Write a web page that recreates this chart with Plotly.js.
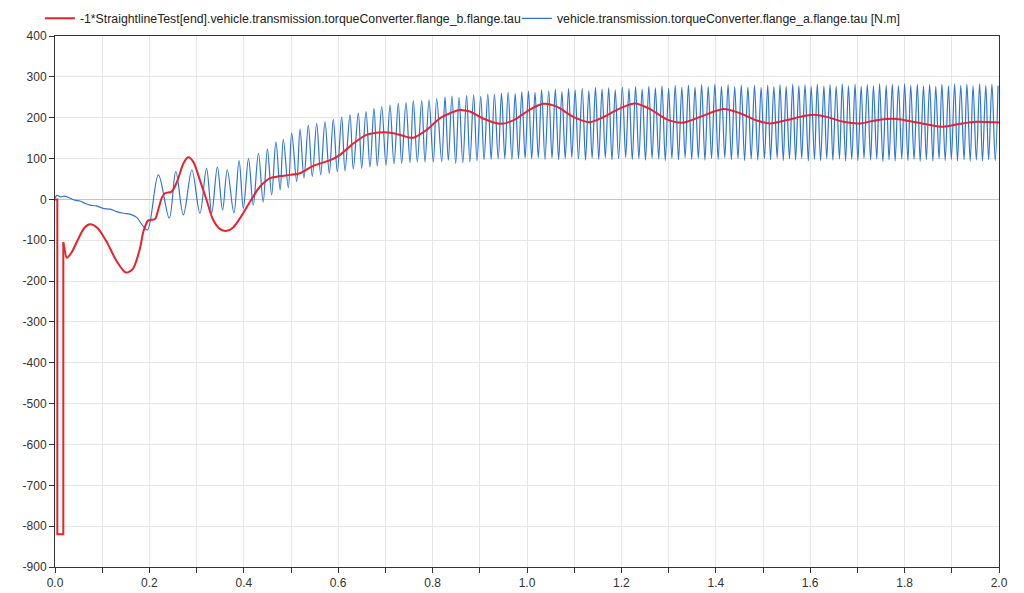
<!DOCTYPE html>
<html>
<head>
<meta charset="utf-8">
<script src="https://cdn.plot.ly/plotly-3.0.1.min.js"></script>
<style>html,body{margin:0;padding:0;background:#fff;}#chart{width:1024px;height:593px;}</style>
</head>
<body>
<div id="chart"></div>
<script>
// ---- Data ----
const redName = '-1*StraightlineTest[end].vehicle.transmission.torqueConverter.flange_b.flange.tau';
const blueName = 'vehicle.transmission.torqueConverter.flange_a.flange.tau [N.m]';

const redTime = [0, 0.0049, 0.0049, 0.0176, 0.0176, 0.020, 0.025, 0.035, 0.050, 0.062, 0.074, 0.090, 0.110, 0.130, 0.150, 0.165, 0.180, 0.187, 0.197, 0.205, 0.212, 0.220, 0.226, 0.233, 0.247, 0.257, 0.265, 0.272, 0.282, 0.293, 0.307, 0.321, 0.335, 0.350, 0.364, 0.378, 0.392, 0.413, 0.434, 0.456, 0.477, 0.498, 0.519, 0.547, 0.583, 0.604, 0.632, 0.660, 0.689, 0.717, 0.745, 0.759, 0.787, 0.816, 0.837, 0.858, 0.879, 0.907, 0.943, 0.972, 1.006, 1.035, 1.063, 1.098, 1.133, 1.161, 1.197, 1.229, 1.261, 1.296, 1.331, 1.367, 1.416, 1.451, 1.487, 1.515, 1.550, 1.578, 1.607, 1.635, 1.670, 1.706, 1.741, 1.783, 1.818, 1.854, 1.882, 1.917, 1.953, 2.000];
const redTorque = [0, 0, -820, -820, -105, -120, -143, -130, -95, -70, -61, -70, -105, -150, -179, -170, -120, -80, -52, -50, -48, -20, 3, 15, 19, 39, 65, 88, 103, 92, 47, -1, -50, -73, -77, -68, -46, -6, 31, 52, 57, 60, 64, 82, 96, 109, 137, 158, 164, 162, 153, 151, 170, 199, 211, 219, 215, 198, 185, 194, 220, 234, 227, 202, 189, 201, 223, 235, 221, 196, 188, 202, 221, 211, 193, 186, 194, 202, 207, 202, 190, 186, 194, 197, 190, 182, 178, 185, 190, 188];

const blueTimeStart = [0, 0.004, 0.012, 0.020, 0.030, 0.042, 0.053, 0.064, 0.074, 0.088, 0.102, 0.117, 0.131, 0.145, 0.159, 0.173, 0.187, 0.196];
const blueTorqueStart = [3, 10, 6, 8, 4, -2, -4, -10, -14, -16, -22, -24, -30, -34, -36, -44, -66, -75];

const blueTimeRise = [0.219, 0.242, 0.256, 0.272, 0.290, 0.307, 0.321, 0.332, 0.344, 0.355, 0.365, 0.379, 0.390, 0.399, 0.410, 0.420, 0.431, 0.441, 0.450, 0.459, 0.468, 0.477, 0.4837, 0.4943, 0.5015, 0.5121, 0.5191, 0.5275, 0.5367, 0.5451, 0.5544, 0.5629, 0.5720, 0.5811, 0.5896, 0.5981, 0.6074, 0.6144, 0.6250, 0.6320, 0.6426, 0.6498, 0.6589, 0.6674, 0.6758, 0.6828, 0.6922, 0.7013, 0.7097, 0.7182, 0.7273, 0.7345, 0.7436, 0.7521, 0.7591, 0.7676, 0.7769, 0.7839, 0.7924, 0.8015, 0.8087, 0.8193, 0.8263, 0.8333];
const blueTorqueRise = [60, -46, 68, -38, 72, -34, 76, -33, 79, -26, 72, -33, 95, -22, 100, -14, 113, -6, 123, 11, 141, 23, 147, 29, 162, 44, 172, 52, 182, 56, 186, 60, 190, 64, 196, 68, 202, 70, 207, 74, 211, 76, 215, 79, 223, 82, 227, 84, 231, 87, 235, 88, 237, 90, 242, 92, 242, 92, 243, 92, 247, 92, 251, 96];

const blueTimeMid = [0.841, 0.849, 0.856, 0.864, 0.872, 0.879, 0.887, 0.894, 0.902, 0.909, 0.917, 0.924, 0.931, 0.939, 0.946, 0.953, 0.960, 0.968, 0.975, 0.982, 0.989, 0.996, 1.003, 1.010, 1.017, 1.024, 1.031, 1.038, 1.046, 1.053, 1.060, 1.067, 1.074, 1.081, 1.088, 1.095, 1.102, 1.109, 1.117, 1.124, 1.131, 1.138, 1.145, 1.152, 1.159, 1.166, 1.173, 1.180, 1.187, 1.194, 1.202, 1.209, 1.216, 1.223, 1.230, 1.237, 1.244, 1.251, 1.258, 1.265, 1.272, 1.279, 1.286, 1.293, 1.300, 1.307, 1.314, 1.321, 1.328, 1.335, 1.342, 1.349, 1.356, 1.363, 1.370, 1.377, 1.384, 1.391, 1.398, 1.405, 1.412, 1.419, 1.426, 1.433, 1.440, 1.447, 1.454, 1.461, 1.468, 1.475, 1.482, 1.489, 1.496, 1.503];
const blueTorqueMid = [253, 88, 250, 90, 254, 92, 256, 95, 252, 97, 258, 98, 257, 99, 260, 100, 262, 98, 259, 100, 263, 101, 265, 99, 262, 102, 268, 98, 266, 101, 270, 97, 264, 100, 271, 103, 268, 99, 272, 96, 266, 101, 274, 98, 270, 102, 273, 97, 268, 100, 275, 103, 271, 98, 276, 100, 270, 96, 277, 101, 273, 99, 278, 95, 272, 100, 279, 97, 274, 102, 280, 98, 275, 101, 281, 96, 276, 100, 282, 98, 277, 102, 281, 97, 276, 100, 280, 95, 275, 99, 279, 96, 274, 100];

const blueTimeEnd = [1.510, 1.516, 1.523, 1.530, 1.536, 1.543, 1.549, 1.556, 1.563, 1.569, 1.576, 1.582, 1.589, 1.596, 1.602, 1.609, 1.615, 1.622, 1.629, 1.635, 1.642, 1.648, 1.655, 1.662, 1.668, 1.675, 1.681, 1.688, 1.695, 1.701, 1.708, 1.714, 1.721, 1.728, 1.734, 1.741, 1.747, 1.754, 1.761, 1.767, 1.774, 1.780, 1.787, 1.794, 1.800, 1.807, 1.813, 1.820, 1.827, 1.833, 1.840, 1.846, 1.853, 1.860, 1.866, 1.873, 1.879, 1.886, 1.893, 1.899, 1.906, 1.912, 1.919, 1.926, 1.932, 1.939, 1.945, 1.952, 1.959, 1.965, 1.972, 1.978, 1.985, 1.992, 1.998];
const blueTorqueEnd = [280, 97, 276, 101, 281, 95, 277, 99, 282, 96, 278, 100, 281, 94, 277, 98, 282, 95, 278, 100, 281, 96, 277, 99, 283, 94, 278, 98, 282, 95, 277, 100, 281, 96, 278, 99, 283, 93, 279, 97, 282, 94, 278, 99, 283, 95, 279, 98, 282, 93, 278, 97, 281, 94, 277, 99, 282, 95, 278, 98, 283, 94, 279, 97, 282, 93, 278, 96, 283, 94, 279, 97, 282, 95, 278];

const xTickValues = [0, 0.1, 0.2, 0.3, 0.4, 0.5, 0.6, 0.7, 0.8, 0.9, 1.0, 1.1, 1.2, 1.3, 1.4, 1.5, 1.6, 1.7, 1.8, 1.9, 2.0];
const xTickLabels = ['0.0', '', '0.2', '', '0.4', '', '0.6', '', '0.8', '', '1.0', '', '1.2', '', '1.4', '', '1.6', '', '1.8', '', '2.0'];
const yTickValues = [-900, -800, -700, -600, -500, -400, -300, -200, -100, 0, 100, 200, 300, 400];
const yTickLabels = ['-900', '-800', '-700', '-600', '-500', '-400', '-300', '-200', '-100', '0', '100', '200', '300', '400'];

// ---- Build traces ----
const blueTime = blueTimeStart.concat(blueTimeRise, blueTimeMid, blueTimeEnd);
const blueTorque = blueTorqueStart.concat(blueTorqueRise, blueTorqueMid, blueTorqueEnd);
const RED = '#e8232b';

const traces = [
  {
    x: blueTime, y: blueTorque, type: 'scatter', mode: 'lines', name: blueName,
    legend: 'legend2',
    line: {color: '#2f74d6', width: 1.2, shape: 'spline', smoothing: 1}, hoverinfo: 'skip'
  },
  {
    // start-up step of the red series (straight segments)
    x: redTime.slice(0, 5), y: redTorque.slice(0, 5), type: 'scatter', mode: 'lines',
    name: redName, legendgroup: 'red', showlegend: false,
    line: {color: RED, width: 2}, hoverinfo: 'skip'
  },
  {
    x: redTime.slice(4), y: redTorque.slice(4), type: 'scatter', mode: 'lines', name: redName,
    legendgroup: 'red',
    line: {color: RED, width: 2, shape: 'spline', smoothing: 0.8}, hoverinfo: 'skip'
  }
];

const legendStyle = {
  orientation: 'h', xanchor: 'left', y: 1.006, yanchor: 'bottom',
  font: {size: 12.3, color: '#222222'}, bgcolor: 'rgba(0,0,0,0)', itemwidth: 30
};

const layout = {
  width: 1024, height: 593,
  margin: {l: 55, r: 25, t: 36, b: 26, pad: 0, autoexpand: false},
  paper_bgcolor: '#ffffff', plot_bgcolor: '#ffffff',
  font: {family: 'Liberation Sans, Arial, sans-serif', size: 12, color: '#333333'},
  showlegend: true,
  legend: Object.assign({}, legendStyle, {x: -0.016}),
  legend2: Object.assign({}, legendStyle, {x: 0.4893}),
  xaxis: {
    range: [0, 2.0], tickmode: 'array', tickvals: xTickValues, ticktext: xTickLabels,
    showgrid: true, gridcolor: '#e6e6e6', gridwidth: 1,
    zeroline: false, showline: true, linecolor: '#333333', linewidth: 1, mirror: true,
    ticks: 'outside', ticklen: 5, tickcolor: '#333333', automargin: false,
    tickfont: {size: 12, color: '#333333'}
  },
  yaxis: {
    range: [-900, 400], tickmode: 'array', tickvals: yTickValues, ticktext: yTickLabels,
    showgrid: true, gridcolor: '#e6e6e6', gridwidth: 1,
    zeroline: true, zerolinecolor: '#c4c4c4', zerolinewidth: 1.5,
    showline: true, linecolor: '#333333', linewidth: 1, mirror: true,
    ticks: 'outside', ticklen: 5, tickcolor: '#333333', automargin: false,
    tickfont: {size: 12, color: '#333333'}
  }
};

Plotly.newPlot('chart', traces, layout, {staticPlot: true, displayModeBar: false});
</script>
</body>
</html>
